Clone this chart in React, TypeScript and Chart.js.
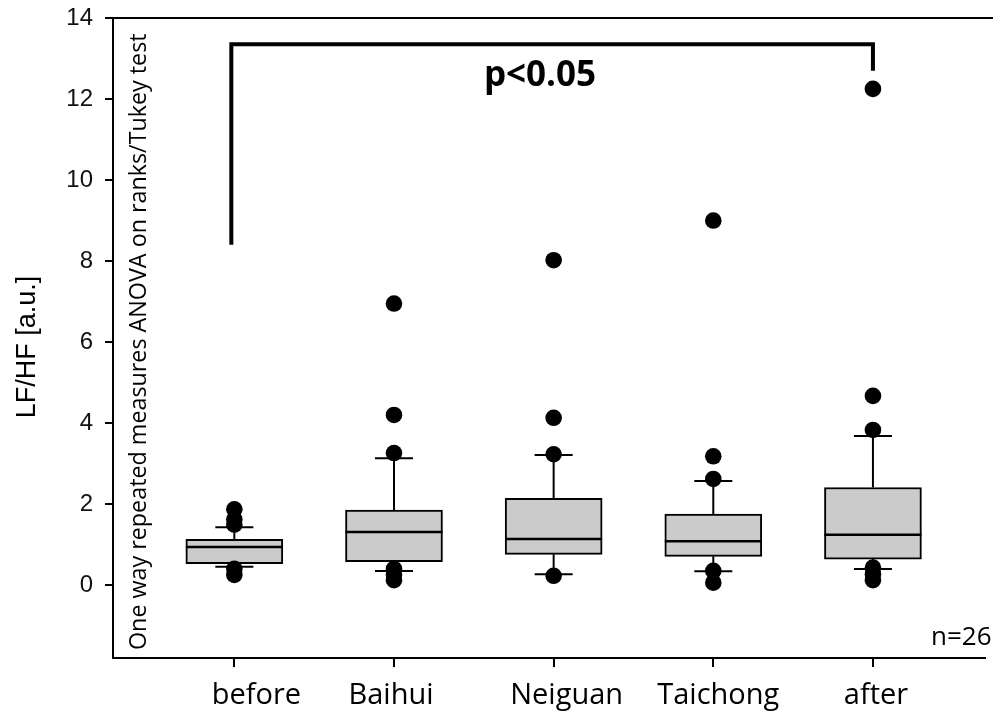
import React, { useEffect, useRef } from 'react';
import { Chart, registerables } from 'chart.js';

Chart.register(...registerables);

// ---- data ----
const categories = ['before', 'Baihui', 'Neiguan', 'Taichong', 'after'];
const q1 = [0.53, 0.58, 0.76, 0.71, 0.64];
const medians = [0.94, 1.31, 1.14, 1.08, 1.24];
const q3 = [1.13, 1.85, 2.14, 1.75, 2.41];
const whiskerLow = [0.45, 0.35, 0.27, 0.34, 0.4];
const whiskerHigh = [1.43, 3.13, 3.21, 2.57, 3.68];
const outliersBefore = [1.87, 1.62, 1.49, 0.4, 0.25];
const outliersBaihui = [6.95, 4.2, 3.26, 0.4, 0.26, 0.12];
const outliersNeiguan = [8.02, 4.13, 3.23, 0.23];
const outliersTaichong = [9.0, 3.18, 2.62, 0.35, 0.06];
const outliersAfter = [12.25, 4.67, 3.83, 0.43, 0.27, 0.12];
const outliers = [outliersBefore, outliersBaihui, outliersNeiguan, outliersTaichong, outliersAfter];
const yTicks = [0, 2, 4, 6, 8, 10, 12, 14];
const yTitle = 'LF/HF [a.u.]';
const testNote = 'One way repeated measures ANOVA on ranks/Tukey test';
const sigLabel = 'p<0.05';
const nLabel = 'n=26';
// bracket: from category 1 to category 5
const bracketTop = 13.35;
const bracketLeftEnd = 8.4;
const bracketRightEnd = 12.7;

export default function App() {
  const ref = useRef<HTMLCanvasElement>(null);

  useEffect(() => {
    if (!ref.current) return;
    const boxData = categories.map((_, i) => ({ x: i + 1, y: [q1[i], q3[i]] }));
    const outlierData = outliers.flatMap((arr, i) => arr.map((v) => ({ x: i + 1, y: v })));

    const BOX_HALF = 48.5;
    const CAP_HALF = 19;
    const labelNudge = [22, -3, 13, 5, 3];

    const boxPlugin = {
      id: 'boxExtras',
      beforeDatasetsDraw(chart: any) {
        const { ctx, scales } = chart;
        const xs = scales.x;
        const ys = scales.y;
        ctx.save();
        ctx.strokeStyle = '#000';
        ctx.lineWidth = 2;
        categories.forEach((_, i) => {
          const x = xs.getPixelForValue(i + 1);
          const segs: [number, number][] = [
            [q3[i], whiskerHigh[i]],
            [q1[i], whiskerLow[i]],
          ];
          segs.forEach(([a, b]) => {
            ctx.beginPath();
            ctx.moveTo(x, ys.getPixelForValue(a));
            ctx.lineTo(x, ys.getPixelForValue(b));
            ctx.stroke();
            ctx.beginPath();
            ctx.moveTo(x - CAP_HALF, ys.getPixelForValue(b));
            ctx.lineTo(x + CAP_HALF, ys.getPixelForValue(b));
            ctx.stroke();
          });
        });
        ctx.restore();
      },
      afterDatasetDraw(chart: any, args: any) {
        if (args.index !== 0) return;
        const { ctx, scales } = chart;
        const xs = scales.x;
        const ys = scales.y;
        ctx.save();
        ctx.strokeStyle = '#000';
        ctx.lineWidth = 2.5;
        categories.forEach((_, i) => {
          const x = xs.getPixelForValue(i + 1);
          const y = ys.getPixelForValue(medians[i]);
          ctx.beginPath();
          ctx.moveTo(x - BOX_HALF, y);
          ctx.lineTo(x + BOX_HALF, y);
          ctx.stroke();
        });
        ctx.restore();
      },
      afterDraw(chart: any) {
        const { ctx, scales, chartArea } = chart;
        const xs = scales.x;
        const ys = scales.y;
        ctx.save();
        // top frame line
        ctx.strokeStyle = '#000';
        ctx.lineWidth = 2;
        ctx.beginPath();
        ctx.moveTo(chartArea.left - 1, chartArea.top);
        ctx.lineTo(chart.width, chartArea.top);
        ctx.stroke();

        // significance bracket
        const xl = xs.getPixelForValue(1) - 3;
        const xr = xs.getPixelForValue(5);
        const yt = ys.getPixelForValue(bracketTop);
        ctx.lineWidth = 4;
        ctx.lineJoin = 'miter';
        ctx.beginPath();
        ctx.moveTo(xl, ys.getPixelForValue(bracketLeftEnd));
        ctx.lineTo(xl, yt);
        ctx.lineTo(xr, yt);
        ctx.lineTo(xr, ys.getPixelForValue(bracketRightEnd));
        ctx.stroke();

        ctx.fillStyle = '#000';
        // p<0.05
        ctx.font = 'bold 35px "Open Sans"';
        ctx.textAlign = 'center';
        ctx.textBaseline = 'alphabetic';
        ctx.fillText(sigLabel, 540, 86);

        // n=26
        ctx.font = '26px "Open Sans"';
        ctx.textAlign = 'left';
        ctx.fillText(nLabel, 931, 645);

        // x category labels
        ctx.font = '29px "Open Sans"';
        ctx.textAlign = 'center';
        categories.forEach((c, i) => {
          ctx.fillText(c, xs.getPixelForValue(i + 1) + labelNudge[i], 704);
        });

        // rotated test note inside plot
        ctx.save();
        ctx.translate(146, 650);
        ctx.rotate(-Math.PI / 2);
        ctx.font = '23.3px "Open Sans"';
        ctx.textAlign = 'left';
        ctx.fillText(testNote, 0, 0);
        ctx.restore();

        // y-axis title
        ctx.save();
        ctx.translate(35, 347);
        ctx.rotate(-Math.PI / 2);
        ctx.font = '27px "Liberation Sans", Arial, sans-serif';
        ctx.textAlign = 'center';
        ctx.fillText(yTitle, 0, 0);
        ctx.restore();

        ctx.restore();
      },
    };

    const chart = new Chart(ref.current, {
      type: 'bar',
      data: {
        datasets: [
          {
            type: 'bar',
            data: boxData as any,
            backgroundColor: '#cbcbcb',
            borderColor: '#000',
            borderWidth: 2,
            borderSkipped: false,
            barThickness: 97,
            order: 2,
          } as any,
          {
            type: 'scatter',
            data: outlierData,
            pointRadius: 8.3,
            pointHoverRadius: 8.3,
            backgroundColor: '#000',
            borderWidth: 0,
            order: 1,
          } as any,
        ],
      },
      options: {
        animation: false,
        responsive: false,
        devicePixelRatio: 1,
        layout: { padding: { top: 18, right: 0, left: 0, bottom: 0 } },
        plugins: {
          legend: { display: false },
          tooltip: { enabled: false },
          title: { display: false },
        },
        scales: {
          x: {
            type: 'linear',
            min: 0.24,
            max: 5.7,
            offset: false,
            afterBuildTicks: (s: any) => {
              s.ticks = categories.map((_, i) => ({ value: i + 1 }));
            },
            afterFit: (s: any) => {
              s.height = 57;
              s.paddingLeft = 0;
              s.paddingRight = 0;
            },
            ticks: { display: false },
            grid: {
              display: true,
              offset: false,
              drawOnChartArea: false,
              drawTicks: true,
              tickLength: 9,
              color: '#000',
              lineWidth: 2,
            },
            border: { display: true, color: '#000', width: 2 },
          },
          y: {
            type: 'linear',
            min: -1.8,
            max: 14,
            afterBuildTicks: (s: any) => {
              s.ticks = yTicks.map((v) => ({ value: v }));
            },
            afterFit: (s: any) => {
              s.width = 113;
              s.paddingTop = 0;
              s.paddingBottom = 0;
            },
            ticks: {
              color: '#111',
              padding: 12,
              font: { family: '"Liberation Sans", Arial, sans-serif', size: 24, lineHeight: 1 },
            },
            grid: {
              display: true,
              drawOnChartArea: false,
              drawTicks: true,
              tickLength: 8,
              color: '#000',
              lineWidth: 2,
            },
            border: { display: true, color: '#000', width: 2 },
          },
        },
      } as any,
      plugins: [boxPlugin],
    });
    return () => chart.destroy();
  }, []);

  return (
    <div style={{ position: 'absolute', left: 0, top: 0, width: 993, height: 715, background: '#fff' }}>
      <canvas ref={ref} width={993} height={715} style={{ display: 'block' }} />
    </div>
  );
}
